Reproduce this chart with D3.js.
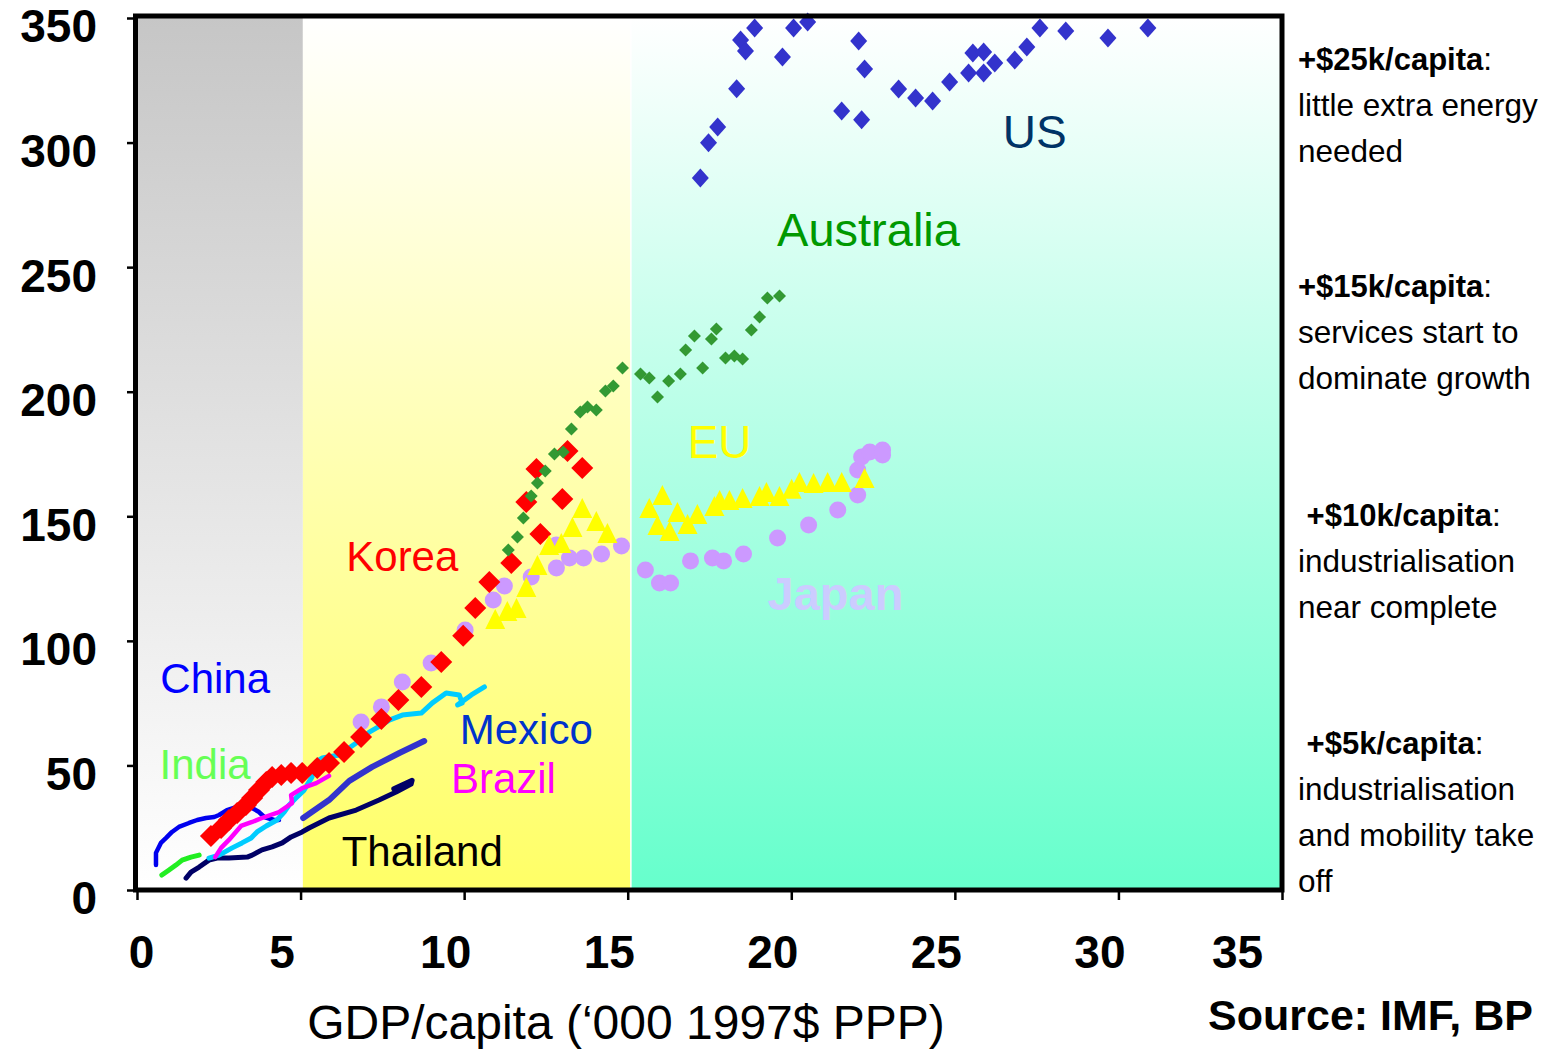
<!DOCTYPE html>
<html>
<head>
<meta charset="utf-8">
<script src="https://cdn.jsdelivr.net/npm/d3@7"></script>
<style>
  body { margin: 0; background: #fff; }
  text { font-family: Arial, "Liberation Sans", sans-serif; }
</style>
</head>
<body>
<svg width="1547" height="1050"></svg>
<script>
// GDP/capita ('000 1997$ PPP) vs energy per capita
const usPoints = [[17.22,285.8],[17.47,299.9],[17.75,306.3],[18.33,321.6],[18.45,341.2],[18.60,336.8],
  [18.88,346.0],[19.73,334.3],[20.07,346.0],[20.50,348.4],[21.54,312.7],[22.06,340.8],[22.15,309.2],
  [22.24,329.5],[23.28,321.5],[23.80,317.9],[24.32,316.7],[24.84,324.3],[25.42,327.9],[25.55,336.0],
  [25.88,336.4],[25.88,327.9],[26.22,331.9],[26.83,333.1],[27.20,338.4],[27.60,346.0],[28.39,344.8],
  [29.68,342.0],[30.90,346.0]];

const australiaPoints = [[11.35,136.5],[11.63,141.7],[11.81,149.3],[12.05,158.1],[12.24,163.4],[12.48,168.2],
  [12.76,175.0],[13.03,175.8],[13.28,185.0],[13.55,191.9],[13.77,193.9],[14.04,192.7],[14.32,200.3],
  [14.56,202.3],[14.84,209.5],[15.39,207.1],[15.66,205.5],[15.91,197.9],[16.25,204.3],[16.61,207.1],
  [16.77,216.7],[17.04,222.4],[17.29,209.5],[17.56,221.2],[17.71,225.2],[17.99,213.5],[18.26,214.3],
  [18.51,213.1],[18.78,224.8],[19.03,230.0],[19.27,237.6],[19.64,238.4]];

const koreaPoints = [[2.26,21.7],[2.57,24.9],[2.81,28.1],[3.06,30.9],[3.33,34.1],[3.52,36.9],[3.73,40.1],
  [3.95,43.3],[4.13,45.4],[4.41,46.2],[4.71,47.0],[5.05,47.0],[5.51,49.0],[5.87,51.0],[6.33,55.4],
  [6.85,61.4],[7.47,68.6],[7.99,76.3],[8.69,81.5],[9.30,91.5],[9.97,102.0],[10.34,113.2],[10.77,123.6],
  [11.44,131.3],[12.33,142.9],[11.90,155.7],[12.21,169.0],[13.00,156.9],[13.16,176.2],[13.61,169.4]];

const japanPoints = [[6.85,67.4],[7.47,73.5],[8.11,83.5],[8.99,91.1],[10.03,104.4],[10.89,116.4],[11.23,122.0],
  [12.05,125.6],[12.82,129.2],[12.82,138.5],[13.22,133.3],[13.65,133.3],[14.20,134.9],[14.81,138.1],
  [15.54,128.4],[15.97,123.2],[16.31,123.2],[16.92,132.1],[17.59,133.3],[17.93,132.1],[18.54,134.9],
  [19.58,141.3],[20.53,146.5],[21.42,152.5],[22.03,158.5],[22.03,168.6],[22.15,173.8],[22.40,175.8],
  [22.79,176.6],[22.79,174.6]];

const euPoints = [[10.95,108.0],[11.32,111.2],[11.60,112.4],[11.90,120.8],[12.24,129.6],[12.60,137.7],
  [12.97,138.5],[13.31,144.9],[13.61,152.5],[14.04,147.3],[14.38,142.5],[15.66,152.5],[16.06,157.7],
  [15.91,145.7],[16.28,143.3],[16.52,150.9],[16.83,146.1],[17.13,150.1],[17.65,153.3],[17.81,155.7],
  [18.11,155.7],[18.51,156.5],[19.03,157.3],[19.24,158.9],[19.64,157.3],[20.01,160.2],[20.25,163.0],
  [20.68,162.6],[21.11,163.0],[21.54,163.0],[22.24,164.6]];

const chinaLine = [[0.58,10.0],[0.58,14.9],[0.73,18.9],[0.89,20.9],[1.07,23.3],[1.28,25.3],[1.59,26.9],
  [1.84,28.1],[2.11,28.9],[2.36,29.3],[2.51,30.1],[2.75,32.1],[3.03,33.3],[3.27,33.3],[3.52,32.9],
  [3.73,31.3],[3.89,29.3],[4.19,28.1],[4.34,28.1]];

const indiaLine = [[0.76,6.0],[0.98,8.0],[1.19,10.0],[1.38,12.0],[1.65,13.2],[1.90,14.0]];

const thailandLine = [[1.50,4.8],[1.65,7.2],[1.90,9.2],[2.20,12.0],[2.45,12.8],[2.81,12.8],[3.37,13.2],
  [3.52,14.0],[3.82,16.1],[4.13,17.3],[4.44,18.9],[4.71,21.3],[5.05,23.3],[5.26,24.9],[5.87,28.9],
  [6.70,32.1],[7.40,36.1],[7.92,39.3],[8.38,42.5],[8.41,44.0],[7.85,40.6],[8.15,42.2]];

const brazilLine = [[2.39,13.2],[2.57,16.9],[2.81,20.1],[3.18,25.7],[3.52,27.3],[3.82,28.9],[4.34,31.3],
  [4.74,34.9],[4.71,38.1],[5.05,40.9],[5.48,42.9],[5.87,45.8]];

const mexicoLine = [[5.08,28.9],[5.87,36.1],[6.49,43.8],[7.19,49.4],[8.02,55.0],[8.78,59.8]];

// cyan line, no label of its own in the reference
const cyanLine = [[2.20,12.8],[2.51,14.0],[2.91,16.9],[3.21,18.9],[3.49,20.9],[3.67,23.3],[3.95,25.7],
  [4.28,28.1],[4.50,31.3],[4.65,34.1],[4.86,36.9],[5.11,40.1],[5.35,45.4],[5.32,49.0],[5.48,51.4],
  [5.66,53.0],[6.18,54.2],[6.70,59.0],[7.10,63.4],[7.47,66.2],[7.71,68.2],[8.11,70.2],[8.69,71.0],
  [9.03,75.1],[9.45,79.1],[9.85,78.3],[9.94,75.1],[9.80,74.3],[10.22,78.3],[10.62,81.5]];

// development stages (GDP/capita '000)
const stageEdges = [0, 5.07, 15.12, 35];

const seriesLabels = [
  ["US", 27.44, 297.8], ["Australia", 22.36, 258.5], ["EU", 17.81, 173.4], ["Japan", 21.35, 112.4],
  ["Korea", 8.11, 128.0], ["China", 2.39, 79.1], ["India", 2.08, 44.6], ["Mexico", 11.90, 58.6],
  ["Brazil", 11.20, 38.9], ["Thailand", 8.72, 9.6]
];

const xTicks = [0, 5, 10, 15, 20, 25, 30, 35];
const yTicks = [0, 50, 100, 150, 200, 250, 300, 350];

const notes = [
  ["+$25k/capita", "little extra energy", "needed"],
  ["+$15k/capita", "services start to", "dominate growth"],
  [" +$10k/capita", "industrialisation", "near complete"],
  [" +$5k/capita", "industrialisation", "and mobility take", "off"]
];

const svg = d3.select('svg');

const x = d3.scaleLinear().domain([0, 35]).range([137, 1282]);
const y = d3.scaleLinear().domain([0, 350]).range([890, 18]);
const plotTop = 16, plotBottom = 890;

// background gradients for the three stages
const defs = svg.append('defs');
const bandColors = [['#c6c6c6', '#ffffff'], ['#ffffff', '#ffff66'], ['#ffffff', '#66ffcc']];
bandColors.forEach((c, i) => {
  const g = defs.append('linearGradient').attr('id', 'band' + i)
    .attr('x1', 0).attr('y1', 0).attr('x2', 0).attr('y2', 1);
  g.append('stop').attr('offset', '0%').attr('stop-color', c[0]);
  g.append('stop').attr('offset', '100%').attr('stop-color', c[1]);
});

svg.append('g').selectAll('rect')
  .data(stageEdges.slice(1))
  .enter().append('rect')
    .attr('x', (d, i) => x(stageEdges[i]))
    .attr('y', plotTop)
    .attr('width', (d, i) => x(d) - x(stageEdges[i]) - (i === 1 ? 1.5 : 0))
    .attr('height', plotBottom - plotTop)
    .attr('fill', (d, i) => `url(#band${i})`);

// line series
const line = d3.line().x(d => x(d[0])).y(d => y(d[1]));
const lineSeries = [
  [chinaLine, '#0000ee', 4.5],
  [indiaLine, '#22ee22', 5],
  [thailandLine, '#000066', 5],
  [cyanLine, '#00ccff', 5],
  [brazilLine, '#ff00ff', 4.5],
  [mexicoLine, '#3333cc', 6]
];
svg.append('g').attr('class', 'lines')
  .selectAll('path')
  .data(lineSeries)
  .enter().append('path')
    .attr('d', d => line(d[0]))
    .attr('fill', 'none')
    .attr('stroke', d => d[1])
    .attr('stroke-width', d => d[2])
    .attr('stroke-linejoin', 'round')
    .attr('stroke-linecap', 'round');

// marker shapes
const diamond = (w, h) => `M0,${-h / 2}L${w / 2},0L0,${h / 2}L${-w / 2},0Z`;
const triangle = (w, h) => `M0,${-h * 0.6}L${w / 2},${h * 0.4}L${-w / 2},${h * 0.4}Z`;

const drawMarkers = (data, shape, color) => {
  svg.append('g')
    .selectAll('path')
    .data(data)
    .enter().append('path')
      .attr('transform', d => `translate(${x(d[0])},${y(d[1])})`)
      .attr('d', shape)
      .attr('fill', color);
};

svg.append('g')
  .selectAll('circle')
  .data(japanPoints)
  .enter().append('circle')
    .attr('cx', d => x(d[0]))
    .attr('cy', d => y(d[1]))
    .attr('r', 8.5)
    .attr('fill', '#cc99ff');

drawMarkers(koreaPoints, diamond(22, 22), '#ff0000');
drawMarkers(euPoints, triangle(20, 20), '#ffff00');
drawMarkers(australiaPoints, diamond(13, 13), '#339933');
drawMarkers(usPoints, diamond(17, 19), '#3333cc');

// plot frame
svg.append('rect')
  .attr('x', 135.5).attr('y', plotTop)
  .attr('width', 1282 - 135.5).attr('height', plotBottom - plotTop)
  .attr('fill', 'none').attr('stroke', '#000').attr('stroke-width', 5);

// axes
const yAxis = svg.append('g')
  .attr('transform', 'translate(135,0)')
  .call(d3.axisLeft(y).tickValues(yTicks).tickSize(8).tickPadding(30).tickSizeOuter(0));
const xAxis = svg.append('g')
  .attr('transform', `translate(0,${plotBottom})`)
  .call(d3.axisBottom(x).tickValues(xTicks).tickSize(10).tickPadding(35).tickSizeOuter(0));

[xAxis, yAxis].forEach(a => {
  a.select('.domain').remove();
  a.selectAll('line').attr('stroke', '#000').attr('stroke-width', 2.5);
  a.selectAll('text')
    .attr('fill', '#000')
    .style('font-size', '46px')
    .style('font-weight', 'bold');
});
yAxis.selectAll('text').attr('dy', '0.52em');
xAxis.selectAll('text')
  .attr('dx', (d, i) => i === 0 ? 4 : (i === xTicks.length - 1 ? -45 : -19));

svg.append('text')
  .attr('x', 626).attr('y', 1039)
  .attr('text-anchor', 'middle')
  .style('font-size', '48px')
  .text('GDP/capita (\u2018000 1997$ PPP)');

svg.append('text')
  .attr('x', 1533).attr('y', 1030)
  .attr('text-anchor', 'end')
  .style('font-size', '43px')
  .style('font-weight', 'bold')
  .text('Source: IMF, BP');

// series labels
const labelStyle = {
  US: ['#003366', 46, 'normal'], Australia: ['#009900', 47, 'normal'], EU: ['#ffff00', 46, 'normal'],
  Japan: ['#ccccff', 47, 'bold'], Korea: ['#ff0000', 42, 'normal'], China: ['#0000ff', 42, 'normal'],
  India: ['#66ff55', 42, 'normal'], Mexico: ['#0033cc', 42, 'normal'], Brazil: ['#ff00ff', 42, 'normal'],
  Thailand: ['#000000', 42, 'normal']
};
svg.append('g')
  .selectAll('text')
  .data(seriesLabels)
  .enter().append('text')
    .attr('x', d => x(d[1]))
    .attr('y', d => y(d[2]))
    .attr('text-anchor', 'middle')
    .attr('fill', d => labelStyle[d[0]][0])
    .style('font-size', d => labelStyle[d[0]][1] + 'px')
    .style('font-weight', d => labelStyle[d[0]][2])
    .text(d => d[0]);

// stage notes on the right
const noteTops = [70, 297, 526, 754];
notes.forEach((n, i) => {
  const t = svg.append('text').attr('x', 1298).style('font-size', '31.5px').attr('xml:space', 'preserve');
  const head = t.append('tspan').attr('x', 1298).attr('y', noteTops[i]);
  head.append('tspan').style('font-weight', 'bold').style('font-size', '31px').text(n[0]);
  head.append('tspan').text(':');
  n.slice(1).forEach((l, j) => {
    t.append('tspan').attr('x', 1298).attr('y', noteTops[i] + 46 * (j + 1)).text(l);
  });
});
</script>
</body>
</html>
